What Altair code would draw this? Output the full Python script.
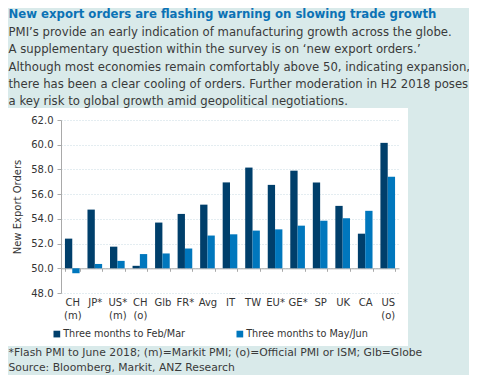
import altair as alt
import pandas as pd

categories = ["CH\n(m)", "JP*", "US*\n(m)", "CH\n(o)", "Glb", "FR*", "Avg", "IT",
              "TW", "EU*", "GE*", "SP", "UK", "CA", "US\n(o)"]
series = ["Three months to Feb/Mar", "Three months to May/Jun"]
feb_mar = [52.4, 54.75, 51.75, 50.2, 53.7, 54.4, 55.15, 56.95, 58.15, 56.75, 57.9, 56.95, 55.05, 52.8, 60.15]
may_jun = [49.6, 50.35, 50.6, 51.15, 51.2, 51.6, 52.65, 52.75, 53.05, 53.15, 53.45, 53.85, 54.05, 54.65, 57.4]
y_ticks = [48, 50, 52, 54, 56, 58, 60, 62]

title_text = "New export orders are flashing warning on slowing trade growth"
body_lines = [
    "PMI\u2019s provide an early indication of manufacturing growth across the globe.",
    "A supplementary question within the survey is on \u2018new export orders.\u2019",
    "Although most economies remain comfortably above 50, indicating expansion,",
    "there has been a clear cooling of orders. Further moderation in H2 2018 poses",
    "a key risk to global growth amid geopolitical negotiations.",
]
foot_lines = [
    "*Flash PMI to June 2018; (m)=Markit PMI; (o)=Official PMI or ISM; Glb=Globe",
    "Source: Bloomberg, Markit,  ANZ Research",
]

rows = []
for i, c in enumerate(categories):
    rows.append({"cat": c, "series": series[0], "value": feb_mar[i]})
    rows.append({"cat": c, "series": series[1], "value": may_jun[i]})
df = pd.DataFrame(rows)

FONT = "DejaVu Sans"
TEAL = "#d9eaea"
W, H = 338, 173
one = pd.DataFrame({"a": [0]})

def rect(x, x2, y, y2):
    return alt.Chart(one).mark_rect(color=TEAL).encode(
        x=alt.value(x), x2=alt.value(x2), y=alt.value(y), y2=alt.value(y2))

def text(s, x, y, size, color="#3a3a3a", weight="normal"):
    return alt.Chart(one).mark_text(
        text=s, align="left", baseline="middle", font=FONT, fontSize=size,
        color=color, fontWeight=weight).encode(x=alt.value(x), y=alt.value(y))

bars = alt.Chart(df).mark_bar().encode(
    x=alt.X("cat:N", sort=categories,
            scale=alt.Scale(paddingInner=0.35, paddingOuter=0.175),
            axis=alt.Axis(title=None, labelExpr="split(datum.label, '\\n')",
                          labelAngle=0, labelFont=FONT, labelFontSize=10,
                          labelColor="#333333", labelLineHeight=13,
                          domainColor="#a9a9a9", tickColor="#a9a9a9",
                          tickSize=3, tickBand="extent", offset=-24.7,
                          labelPadding=26, grid=False)),
    xOffset=alt.XOffset("series:N", sort=series,
                        scale=alt.Scale(paddingInner=0, paddingOuter=0)),
    y=alt.Y("value:Q", scale=alt.Scale(domain=[48, 62], nice=False, zero=False),
            axis=alt.Axis(title="New Export Orders", values=y_ticks, format=".1f",
                          titleFont=FONT, titleFontSize=10, titleFontWeight="normal",
                          titleColor="#333333", titlePadding=8,
                          labelFont=FONT, labelFontSize=10, labelColor="#333333",
                          labelPadding=4, tickSize=4, tickColor="#a9a9a9",
                          domainColor="#a9a9a9", grid=True, gridColor="#c9dbe3",
                          gridDash=[1, 2])),
    y2=alt.datum(50),
    color=alt.Color("series:N", sort=series,
                    scale=alt.Scale(domain=series, range=["#003f6b", "#0077bd"]),
                    legend=alt.Legend(orient="none", legendX=-9, legendY=209,
                                      padding=0,
                                      direction="horizontal", title=None,
                                      symbolType="square", symbolSize=45,
                                      symbolStrokeWidth=0, labelFont=FONT,
                                      labelFontSize=9.7, labelColor="#333333",
                                      labelOffset=1.5, columnPadding=49)),
)

layers = [
    rect(-61, 416, -120, -12),
    rect(347, 416, -12, 264),
    rect(-61, 347, 226, 264),
    bars,
    text(title_text, -52.5, -106, 11.7, color="#0b72b5", weight="bold"),
]
for s, yy in zip(body_lines, [-88.3, -70.7, -53.3, -36, -19]):
    layers.append(text(s, -52.5, yy, 11.7))
for s, yy in zip(foot_lines, [233, 248]):
    layers.append(text(s, -52.5, yy, 10.8))

chart = alt.layer(*layers).properties(
    width=W, height=H,
    autosize=alt.AutoSizeParams(type="none"),
    padding={"left": 53, "top": 112, "right": 70, "bottom": 82},
    background="white",
).configure_view(stroke=None)

chart.save("out.html", embed_options={"renderer": "svg", "actions": False})
